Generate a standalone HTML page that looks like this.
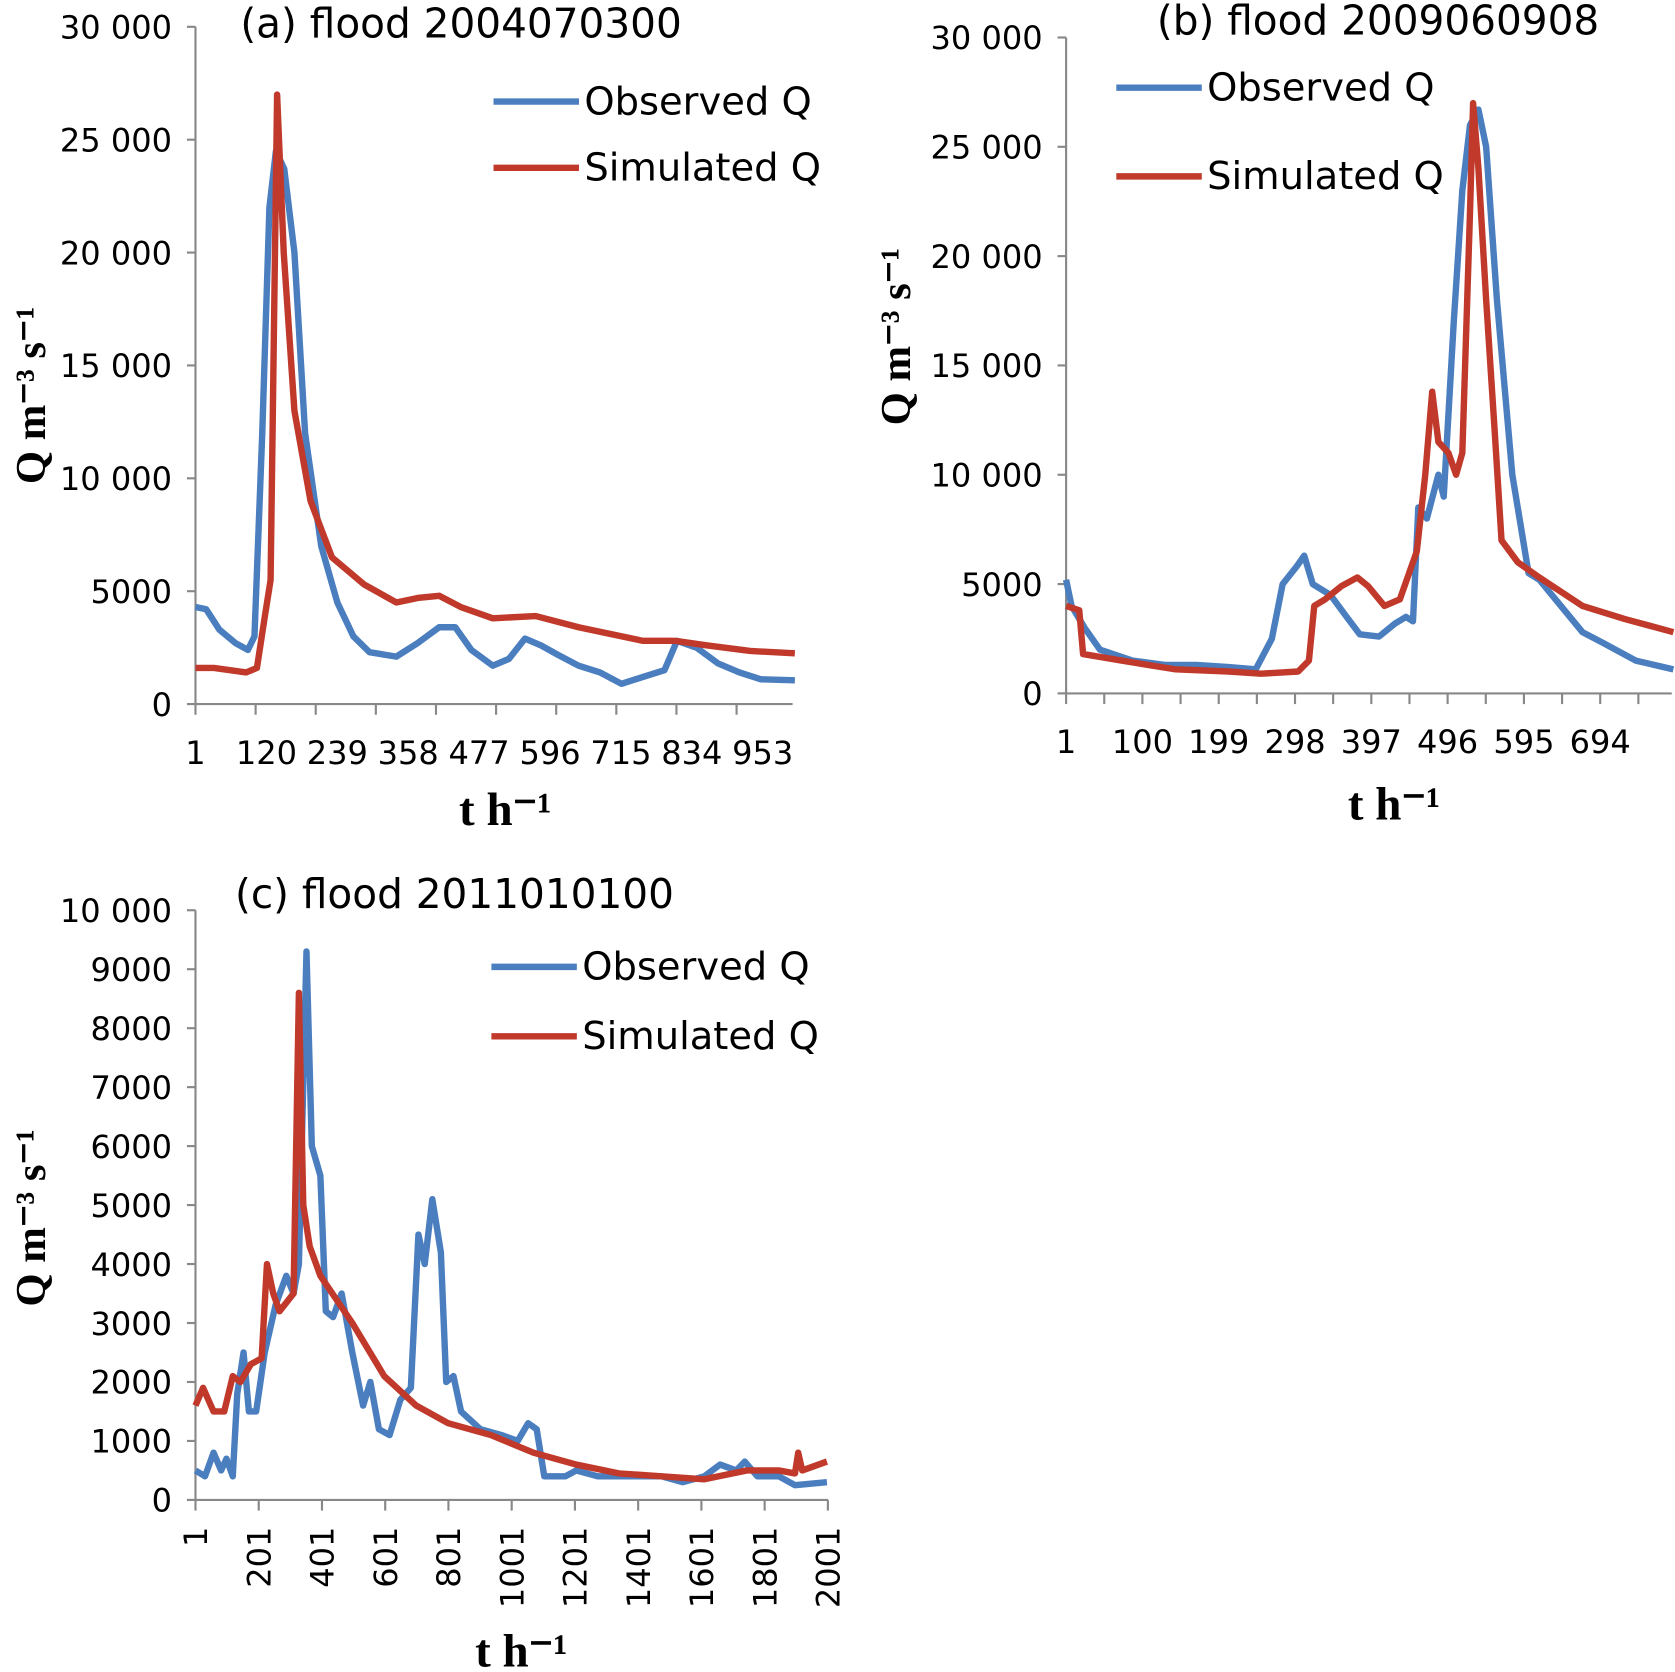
<!DOCTYPE html>
<html><head><meta charset="utf-8"><style>
html,body{margin:0;padding:0;background:#fff;}
svg{display:block;}
text{font-family:"DejaVu Sans","Liberation Sans",sans-serif;fill:#000;}
.ttl{font-family:"Liberation Serif",serif;font-weight:bold;}
</style></head><body>
<svg id="fig" width="1675" height="1672" viewBox="0 0 1568 1565" xmlns="http://www.w3.org/2000/svg"></svg>
<script>
// ---- Panel (a) data ----
const aObsT=[1,19,41,68,89,100,113,125,136,150,167,185,212,239,266,293,338,374,410,437,464,500,527,554,581,608,644,680,716,752,788,809,842,878,914,950,1007];
const aObsQ=[4300,4200,3300,2700,2400,3000,12000,22000,24500,23700,20000,12000,7000,4500,3000,2300,2100,2700,3400,3400,2400,1700,2000,2900,2600,2200,1700,1400,900,1200,1500,2800,2500,1800,1400,1100,1050];
const aSimT=[1,32,86,104,118,127,138,149,167,194,230,284,338,374,410,446,500,572,644,752,806,860,932,1007];
const aSimQ=[1600,1600,1400,1600,4000,5500,27000,20000,13000,9000,6500,5300,4500,4700,4800,4300,3800,3900,3400,2800,2800,2600,2350,2250];
const aYTicks=[0,5000,10000,15000,20000,25000,30000];
const aYLabels=["0","5000","10 000","15 000","20 000","25 000","30 000"];
const aXLabels=[1,120,239,358,477,596,715,834,953];
// ---- Panel (b) data ----
const bObsT=[1,8,25,45,87,129,170,212,247,268,282,300,310,321,344,365,382,407,428,442,451,458,469,484,491,504,515,525,536,546,560,580,601,615,643,671,698,740,789];
const bObsQ=[5200,4000,3000,2000,1500,1300,1300,1200,1100,2500,5000,5800,6300,5000,4500,3500,2700,2600,3200,3500,3300,8500,8000,10000,9000,17000,23000,26000,26700,25000,18000,10000,5500,5200,4000,2800,2300,1500,1100];
const bSimT=[1,18,23,73,143,212,254,302,316,323,337,358,379,393,414,434,456,467,476,484,497,507,515,525,529,536,546,557,566,587,615,671,726,789];
const bSimQ=[4000,3800,1800,1500,1100,1000,900,1000,1500,4000,4300,4900,5300,4900,4000,4300,6500,10000,13800,11500,11000,10000,11000,22000,27000,24000,18000,12000,7000,6000,5300,4000,3400,2800];
const bYTicks=[0,5000,10000,15000,20000,25000,30000];
const bYLabels=["0","5000","10 000","15 000","20 000","25 000","30 000"];
const bXLabels=[1,100,199,298,397,496,595,694];
// ---- Panel (c) data ----
const cObsT=[1,31,58,82,99,119,133,153,170,193,220,254,288,311,328,352,369,396,413,436,463,497,531,554,581,615,649,682,706,726,750,777,794,817,841,902,969,1020,1053,1080,1104,1171,1205,1273,1340,1475,1542,1610,1660,1711,1738,1778,1846,1897,1998];
const cObsQ=[500,400,800,500,700,400,1800,2500,1500,1500,2500,3300,3800,3500,4000,9300,6000,5500,3200,3100,3500,2500,1600,2000,1200,1100,1700,1900,4500,4000,5100,4200,2000,2100,1500,1200,1100,1000,1300,1200,400,400,500,400,400,400,300,400,600,500,650,400,400,250,300];
const cSimT=[1,25,58,92,119,143,176,210,227,247,267,311,328,342,362,396,497,598,699,800,935,1070,1205,1340,1475,1610,1745,1846,1897,1907,1920,1998];
const cSimQ=[1600,1900,1500,1500,2100,2000,2300,2400,4000,3500,3200,3500,8600,5000,4300,3800,3000,2100,1600,1300,1100,800,600,450,400,350,500,500,450,800,500,650];
const cYTicks=[0,1000,2000,3000,4000,5000,6000,7000,8000,9000,10000];
const cYLabels=["0","1000","2000","3000","4000","5000","6000","7000","8000","9000","10 000"];
const cXLabels=[1,201,401,601,801,1001,1201,1401,1601,1801,2001];

const NS="http://www.w3.org/2000/svg";
const svg=document.getElementById('fig');
function mk(tag,attrs,parent){const e=document.createElementNS(NS,tag);for(const k in attrs)e.setAttribute(k,attrs[k]);(parent||svg).appendChild(e);return e;}

function panel(p){
  const g=mk('g',{});
  
  
  const sx=t=>p.x0+(t-p.t0)*(p.x1-p.x0)/(p.t1-p.t0);
  const sy=q=>p.y0-q*(p.y0-p.yTop)/p.qMax;
  const ax=mk('path',{d:`M${p.x0} ${p.yTop} V${p.y0} H${p.xEnd}`,stroke:'#888',fill:'none','stroke-width':2},g);
  
  
  p.yTicks.forEach((v,i)=>{
    const y=sy(v);
    mk('line',{x1:p.x0-8,x2:p.x0,y1:y,y2:y,stroke:'#888','stroke-width':2},g);
    const t=mk('text',{x:p.x0-22,y:y+11,'text-anchor':'end','font-size':30},g);
    t.textContent=p.yLabels[i];
    
    
  });
  p.xTicks.forEach(v=>{const x=sx(v);mk('line',{x1:x,x2:x,y1:p.y0,y2:p.y0+10,stroke:'#888','stroke-width':2},g);});
  p.xLabels.forEach(v=>{
    const x=sx(v);
    let t;
    if(p.rot){t=mk('text',{x:0,y:0,'text-anchor':'end','font-size':30,transform:`translate(${x+11},${p.y0+25}) rotate(-90)`},g);}
    else{t=mk('text',{x:x,y:p.y0+56,'text-anchor':'middle','font-size':30},g);}
    t.textContent=v;
    
    
  });
  const line=(T,Q,col,name)=>{
    const d=T.map((t,i)=>(i?'L':'M')+sx(t).toFixed(1)+' '+sy(Q[i]).toFixed(1)).join(' ');
    const l=mk('path',{d:d,stroke:col,fill:'none','stroke-width':6,'stroke-linejoin':'round'},g);
    
    
  };
  line(p.obsT,p.obsQ,'#4a7ebf',p.id+'-observed-line');
  line(p.simT,p.simQ,'#c0392b',p.id+'-simulated-line');
  const tt=mk('text',{x:p.title[0],y:p.title[1],'font-size':38},g);
  tt.textContent=p.title[2];
  
  
  [[p.leg[1],'#4a7ebf','Observed Q'],[p.leg[2],'#c0392b','Simulated Q']].forEach(([y,c,s])=>{
    const lg=mk('g',{},g);
    
    
    mk('line',{x1:p.leg[0],x2:p.leg[0]+80,y1:y,y2:y,stroke:c,'stroke-width':6},lg);
    const t=mk('text',{x:p.leg[0]+85,y:y+12,'font-size':36},lg);t.textContent=s;
  });
  const yt=mk('text',{'class':'ttl','font-size':40,'text-anchor':'middle',transform:`translate(${p.yTitle[0]},${p.yTitle[1]}) rotate(-90)`},g);
  yt.textContent='Q m⁻³ s⁻¹';
  
  
  const xt=mk('text',{'class':'ttl','font-size':44,'text-anchor':'middle',x:p.xTitle[0],y:p.xTitle[1]},g);
  xt.textContent='t h⁻¹';
  
  
}
const rng=(a,b,s)=>{const r=[];for(let v=a;v<=b+1e-9;v+=s)r.push(v);return r;};
panel({id:'a',x0:183,t0:1,x1:714,t1:953,xEnd:742,y0:659,yTop:25,qMax:30000,yTicks:aYTicks,yLabels:aYLabels,xLabels:aXLabels,xTicks:rng(1,1007,100.9),obsT:aObsT,obsQ:aObsQ,simT:aSimT,simQ:aSimQ,title:[225,35,'(a) flood 2004070300'],leg:[462,95,157],yTitle:[42,370],xTitle:[473,772]});
panel({id:'b',x0:998,t0:1,x1:1498,t1:694,xEnd:1565,y0:649,yTop:35,qMax:30000,yTicks:bYTicks,yLabels:bYLabels,xLabels:bXLabels,xTicks:rng(1,789,49.5),obsT:bObsT,obsQ:bObsQ,simT:bSimT,simQ:bSimQ,title:[1083,32,'(b) flood 2009060908'],leg:[1045,82,165],yTitle:[852,315],xTitle:[1305,767]});
panel({id:'c',x0:183,t0:1,x1:775,t1:2001,xEnd:775,y0:1404,yTop:852,qMax:10000,yTicks:cYTicks,yLabels:cYLabels,xLabels:cXLabels,xTicks:cXLabels,rot:true,obsT:cObsT,obsQ:cObsQ,simT:cSimT,simQ:cSimQ,title:[220,850,'(c) flood 2011010100'],leg:[460,905,970],yTitle:[42,1140],xTitle:[488,1560]});
</script>
</body></html>
